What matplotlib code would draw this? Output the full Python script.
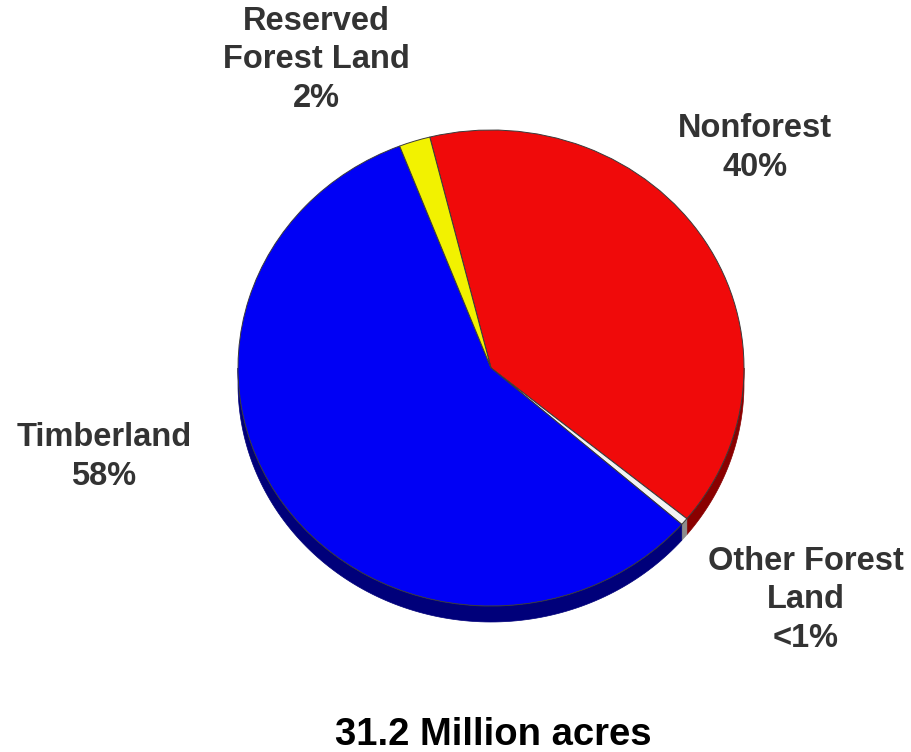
import numpy as np
import matplotlib
matplotlib.use("Agg")
import matplotlib.pyplot as plt
from matplotlib.patches import Polygon

# Land area shares, in drawing order (clockwise from the top)
categories = ["Nonforest", "Other Forest Land", "Timberland", "Reserved Forest Land"]
shares = [40, 0.5, 58, 2]
labels = ["Nonforest\n40%", "Other Forest\nLand\n<1%", "Timberland\n58%",
          "Reserved\nForest Land\n2%"]
total_label = "31.2 Million acres"

top_colors = ["#f00a0a", "#f4f4f4", "#0000f5", "#f2f200"]
side_colors = ["#8a0000", "#8c8c8c", "#00007a", "#8a8a00"]

W, H = 911, 752
fig = plt.figure(figsize=(W / 100, H / 100), dpi=100)
ax = fig.add_axes([0, 0, 1, 1])

# pie drawn on a unit circle; axis limits squash it into a tilted ellipse
cx, cy, rx, ry = 491, 368, 253, 238

wedges, _ = ax.pie(shares, colors=top_colors, startangle=104, counterclock=False,
                   radius=1.0, wedgeprops=dict(edgecolor="#3a3a3a", linewidth=0.7))
ax.set_aspect("auto")
ax.set_xlim(-cx / rx, (W - cx) / rx)
ax.set_ylim(-(H - cy) / ry, cy / ry)
ax.axis("off")
for w in wedges:
    w.set_zorder(3)

# side wall of the disc, visible on the lower half only
depth = 16 / ry
for w, col in zip(wedges, side_colors):
    for k in (-1, 0, 1):
        a = max(w.theta1 + 360 * k, 180)
        b = min(w.theta2 + 360 * k, 360)
        if b <= a:
            continue
        t = np.radians(np.linspace(a, b, 120))
        xs, ys = np.cos(t), np.sin(t)
        pts = np.concatenate([np.column_stack([xs, ys]),
                              np.column_stack([xs[::-1], ys[::-1] - depth])])
        ax.add_patch(Polygon(pts, closed=True, facecolor=col, edgecolor=col,
                             linewidth=0.5, zorder=2))

font = ["Liberation Sans", "DejaVu Sans"]
lab_kw = dict(family=font, fontweight="bold", fontsize=23.5, color="#333333",
              ha="center", va="center", linespacing=1.3)


def px(x, y):
    return x / W, 1 - y / H


fig.text(*px(316, 60), labels[3], **lab_kw)
fig.text(*px(755, 148), labels[0], **lab_kw)
fig.text(*px(104, 457), labels[2], **lab_kw)
fig.text(*px(806, 600), labels[1], **lab_kw)
fig.text(*px(493, 735), total_label, family=font, fontweight="bold",
         fontsize=27.5, color="black", ha="center", va="center")

fig.savefig("out.png", dpi=100)
